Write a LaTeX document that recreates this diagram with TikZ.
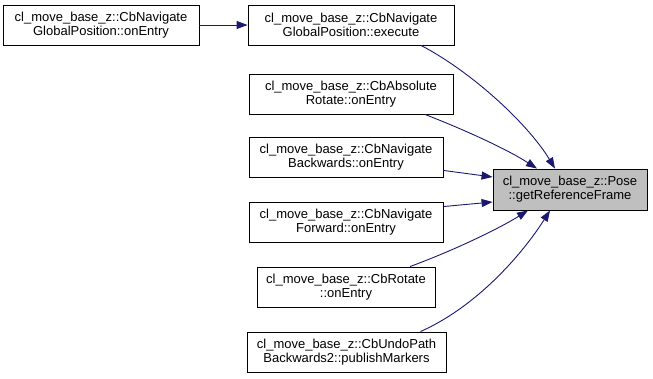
\documentclass[tikz,border=0pt]{standalone}
\usepackage{fontspec}
\setmainfont{Liberation Sans}
\usetikzlibrary{arrows.meta}
\definecolor{edgeblue}{RGB}{25,25,112}
\definecolor{curfill}{RGB}{191,191,191}
\begin{document}
\begin{tikzpicture}[x=1pt,y=-1pt,
  fn/.style={draw=black, line width=0.9pt, fill=white, inner sep=0pt,
    align=center, font=\fontsize{13}{14}\selectfont},
  cur/.style={fn, fill=curfill},
  call/.style={draw=edgeblue, line width=0.9pt,
    -{Triangle[length=11pt,width=8pt]}}]
\useasboundingbox (0,0) rectangle (653,379);

% callers
\node[fn, minimum width=196pt, minimum height=40pt] (navent) at (101,25)
  {cl\_move\_base\_z::CbNavigate\\GlobalPosition::onEntry};
\node[fn, minimum width=206pt, minimum height=40pt] (navexec) at (351,25)
  {cl\_move\_base\_z::CbNavigate\\GlobalPosition::execute};
\node[fn, minimum width=204pt, minimum height=40pt] (absrot) at (351,94)
  {cl\_move\_base\_z::CbAbsolute\\Rotate::onEntry};
\node[fn, minimum width=194pt, minimum height=40pt] (navback) at (346,157)
  {cl\_move\_base\_z::CbNavigate\\Backwards::onEntry};
\node[fn, minimum width=194pt, minimum height=40pt] (navfwd) at (346,222)
  {cl\_move\_base\_z::CbNavigate\\Forward::onEntry};
\node[fn, minimum width=178pt, minimum height=40pt] (rot) at (346,287)
  {cl\_move\_base\_z::CbRotate\\::onEntry};
\node[fn, minimum width=199pt, minimum height=40pt] (undo) at (346.5,352)
  {cl\_move\_base\_z::CbUndoPath\\Backwards2::publishMarkers};

% callee
\node[cur, minimum width=154pt, minimum height=41pt] (pose) at (570,189.5)
  {cl\_move\_base\_z::Pose\\::getReferenceFrame};

% calls
\draw[call] (navent.east) -- (navexec.west);
\draw[call] ([xshift=70pt]navexec.south) .. controls (472,72) and (528,124) .. ([xshift=-15pt]pose.north);
\draw[call] ([xshift=74pt]absrot.south) .. controls (460,128) and (505,148) .. ([xshift=-33pt]pose.north);
\draw[call] ([yshift=7pt]navback.south east) -- ([yshift=12.5pt]pose.west);
\draw[call] ([yshift=-5pt]navfwd.north east) -- ([yshift=-12.5pt]pose.west);
\draw[call] ([xshift=64pt]rot.north) .. controls (455,250) and (500,228) .. ([xshift=-42pt]pose.south);
\draw[call] ([xshift=74pt]undo.north) .. controls (480,305) and (525,250) .. ([xshift=-20pt]pose.south);
\end{tikzpicture}
\end{document}
